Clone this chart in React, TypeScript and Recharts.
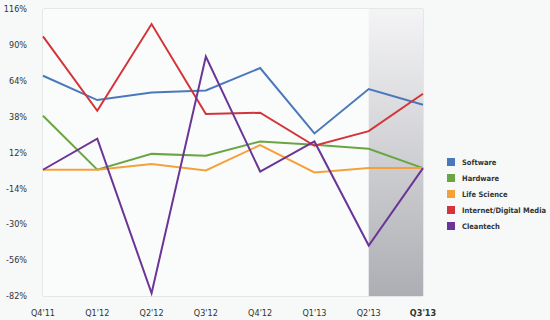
import { LineChart, Line, XAxis, YAxis, CartesianGrid, ReferenceArea } from "recharts";

/* ===== data ===== */
const quarters = ["Q4'11", "Q1'12", "Q2'12", "Q3'12", "Q4'12", "Q1'13", "Q2'13", "Q3'13"];

const software = [67.6, 50, 55.5, 57, 73.2, 25.8, 58, 46.6];
const hardware = [38.6, -0.5, 11, 9.6, 20, 17.6, 14.7, 0.7];
const lifeScience = [-0.5, -0.5, 3.6, -1, 17.4, -2.5, 0.7, 0.7];
const internet = [96.1, 42.2, 105.1, 39.9, 40.8, 16.9, 27.5, 54.6];
const cleantech = [-0.5, 22, -90, 81.6, -1.8, 20, -55.4, 0.7];

const yTicks = [116, 90, 64, 38, 12, -14, -40, -66, -92];
const yLabels = ["116%", "90%", "64%", "38%", "12%", "-14%", "-30%", "-56%", "-82%"];

const series = [
  { key: "software", name: "Software", color: "#4a78bd" },
  { key: "hardware", name: "Hardware", color: "#6aa544" },
  { key: "life", name: "Life Science", color: "#f5a13b" },
  { key: "internet", name: "Internet/Digital Media", color: "#d3343a" },
  { key: "cleantech", name: "Cleantech", color: "#6a3596" },
];

const data = quarters.map((q, i) => ({
  q,
  software: software[i],
  hardware: hardware[i],
  life: lifeScience[i],
  internet: internet[i],
  cleantech: cleantech[i],
}));

const font = "'DejaVu Sans Condensed', 'Liberation Sans Narrow', 'Open Sans', sans-serif";

const XTick = ({ x, y, payload }: any) => (
  <text
    x={x}
    y={y}
    dy={10}
    textAnchor="middle"
    fontSize={9}
    fontFamily={font}
    fill="#333"
    fontWeight={payload.value === "Q3'13" ? 700 : 400}
  >
    {payload.value}
  </text>
);

export default function App() {
  return (
    <div style={{ position: "absolute", left: 0, top: 0, width: 550, height: 320, background: "#f6f9f7" }}>
      <LineChart width={550} height={320} data={data} margin={{ top: 9, right: 127, bottom: 0, left: 0 }}>
        <defs>
          <linearGradient id="shade" x1="0" y1="0" x2="0" y2="1">
            <stop offset="0%" stopColor="#f4f4f6" />
            <stop offset="100%" stopColor="#adaeb3" />
          </linearGradient>
        </defs>
        <rect x={43} y={9} width={380} height={287} fill="#fafcfb" />
        <ReferenceArea x1="Q2'13" x2="Q3'13" y1={-92} y2={116} fill="url(#shade)" fillOpacity={1} stroke="none" />
        <CartesianGrid stroke="#d3d6d5" strokeWidth={1} />
        <XAxis
          dataKey="q"
          height={24}
          axisLine={false}
          tickLine={false}
          tickSize={0}
          tickMargin={10}
          interval={0}
          tick={<XTick />}
        />
        <YAxis
          width={43}
          domain={[-92, 116]}
          ticks={yTicks}
          axisLine={false}
          tickLine={false}
          tickSize={0}
          tickMargin={16}
          tick={{ fontSize: 9, fontFamily: font, fill: "#333" }}
          tickFormatter={(v: number) => yLabels[yTicks.indexOf(v)]}
        />
        {series.map((s) => (
          <Line
            key={s.key}
            type="linear"
            dataKey={s.key}
            name={s.name}
            stroke={s.color}
            strokeWidth={2}
            dot={false}
            isAnimationActive={false}
          />
        ))}
      </LineChart>
      {/* legend */}
      <div
        style={{
          position: "absolute",
          left: 447,
          top: 154,
          fontFamily: font,
          fontSize: 7.5,
          fontWeight: 700,
          color: "#333",
        }}
      >
        {series.map((s) => (
          <div key={s.key} style={{ display: "flex", alignItems: "center", height: 16, whiteSpace: "nowrap" }}>
            <span style={{ width: 8, height: 8, background: s.color, marginRight: 7, display: "inline-block" }} />
            {s.name}
          </div>
        ))}
      </div>
    </div>
  );
}
